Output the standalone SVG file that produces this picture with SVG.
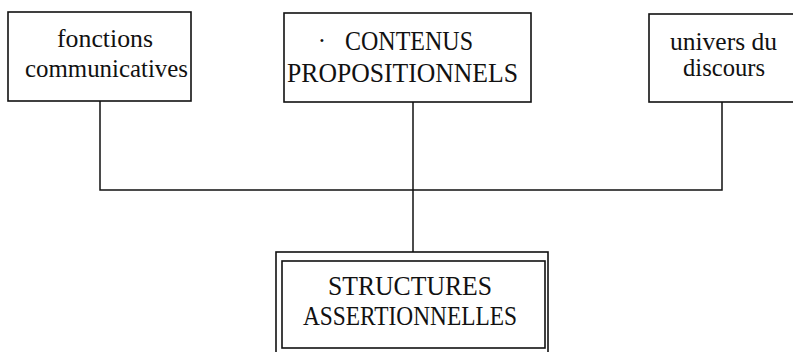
<svg xmlns="http://www.w3.org/2000/svg" width="793" height="352" viewBox="0 0 793 352">
  <style>
    .box { fill: #ffffff; stroke: #111111; stroke-width: 1.6; }
    .wire { fill: none; stroke: #111111; stroke-width: 1.5; }
    .lbl { font-family: "Liberation Serif", "Times New Roman", serif; font-size: 25px; fill: #111111; text-anchor: middle; }
    .caps { font-size: 26.5px; }
  </style>
  <rect width="793" height="352" fill="#ffffff"/>

  <!-- connectors: three drops joined by a bus, then one line down -->
  <g id="connectors">
    <polyline class="wire" points="100,101 100,190 722,190 722,102"/>
    <line class="wire" x1="413" y1="102" x2="413" y2="252"/>
  </g>

  <g id="node-fonctions">
    <rect class="box" x="8" y="12" width="183" height="89"/>
    <text class="lbl" x="105" y="47" textLength="96" lengthAdjust="spacingAndGlyphs">fonctions</text>
    <text class="lbl" x="106.5" y="77" textLength="163" lengthAdjust="spacingAndGlyphs">communicatives</text>
  </g>

  <g id="node-contenus">
    <rect class="box" x="284" y="13" width="247" height="89"/>
    <text class="lbl" x="322" y="49">·</text>
    <text class="lbl caps" x="409" y="50" textLength="128" lengthAdjust="spacingAndGlyphs">CONTENUS</text>
    <text class="lbl caps" x="402.5" y="82" textLength="231" lengthAdjust="spacingAndGlyphs">PROPOSITIONNELS</text>
  </g>

  <g id="node-univers">
    <rect class="box" x="649" y="14" width="150" height="88"/>
    <text class="lbl" x="723.5" y="50" textLength="107" lengthAdjust="spacingAndGlyphs">univers du</text>
    <text class="lbl" x="724" y="76" textLength="82" lengthAdjust="spacingAndGlyphs">discours</text>
  </g>

  <g id="node-structures">
    <rect class="box" x="276" y="252" width="272" height="104"/>
    <rect class="box" x="282" y="261" width="263" height="87"/>
    <text class="lbl caps" x="410" y="295" textLength="164" lengthAdjust="spacingAndGlyphs">STRUCTURES</text>
    <text class="lbl caps" x="410" y="325" textLength="214" lengthAdjust="spacingAndGlyphs">ASSERTIONNELLES</text>
  </g>
</svg>
